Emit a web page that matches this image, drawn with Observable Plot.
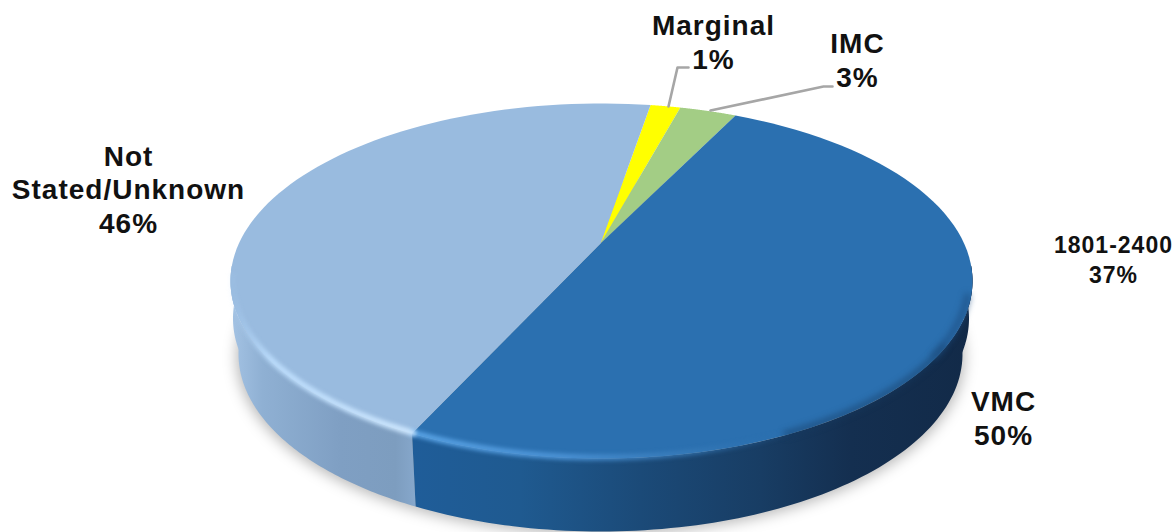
<!DOCTYPE html>
<html><head><meta charset="utf-8">
<script src="https://cdn.jsdelivr.net/npm/d3@7"></script>
<script src="https://cdn.jsdelivr.net/npm/@observablehq/plot@0.6"></script>
<style>html,body{margin:0;padding:0;background:#fff}svg{display:block}</style>
</head><body><div id="chart"></div>
<script>
// Data
const categories = ["Marginal", "IMC", "VMC", "Not\nStated/Unknown"];
const statedPercent = [1, 3, 50, 46];
// slice sizes as drawn in the picture (percent of the turn)
const drawnShare = [1.3, 2.47, 52.65, 43.58];
const colors = ["#ffff00", "#a3cd85", "#2b70b0", "#99bbdf"];
const strayLabel = "1801-2400\n37%";

// Layout (chart units equal pixels)
const W = 1176, H = 532;
const topE = {cx: 601, cy: 280.5, rx: 371, ry: 177.5};
const midE = {cx: 600.5, cy: 318, rx: 368, ry: 177.5};
const botE = {cx: 600, cy: 353.5, rx: 362, ry: 177.5};
const apex = {x: 600, y: 243};
const rad = Math.PI / 180;
const pt = (e, t, k = 1) => ({x: e.cx + k * e.rx * Math.sin(t), y: e.cy - k * e.ry * Math.cos(t)});
const arcPts = (e, a, b, k = 1) => d3.range(0, 1.0001, 1 / 90).map(f => pt(e, a + (b - a) * f, k));

const arcs = d3.pie().sort(null).value(d => d).startAngle(7.6 * rad).endAngle(367.6 * rad)(drawnShare);
const blue = arcs[2], light = arcs[3];

const wedge = a => [apex, ...arcPts(topE, a.startAngle, a.endAngle)];
const side = (a, b, e = botE) => [...arcPts(topE, a, b), ...arcPts(e, b, a)];
const line = (pts, o) => Plot.line(pts, {x: "x", y: "y", curve: "linear", ...o});

const labelPos = [[713, 41], [857, 59], [1003, 417], [128, 188]];
const labels = categories.map((c, i) => ({text: `${c}\n${statedPercent[i]}%`, x: labelPos[i][0], y: labelPos[i][1]}));
const leaders = [
  [{x: 668, y: 106}, {x: 677, y: 67}, {x: 688, y: 67}],
  [{x: 710, y: 110}, {x: 823, y: 86}, {x: 832, y: 86}]
];

const plot = Plot.plot({
  width: W, height: H, margin: 0,
  x: {domain: [0, W], axis: null},
  y: {domain: [H, 0], axis: null},
  style: {background: "#fff", letterSpacing: "1px"},
  marks: [
    // drop shadow
    line(arcPts({...botE, cy: botE.cy + 3, rx: botE.rx + 2}, 0, 2 * Math.PI), {fill: "#000", fillOpacity: 0.28, stroke: "none", imageFilter: "blur(7px)"}),
    // side walls
    line(side(light.startAngle, 275 * rad), {fill: "url(#sideLight)", stroke: "none"}),
    line(side(235 * rad, 275 * rad, midE), {fill: "url(#sideLight)", stroke: "none"}),
    line(side(85 * rad, blue.endAngle), {fill: "url(#sideBlue)", stroke: "none"}),
    line(side(85 * rad, 125 * rad, midE), {fill: "url(#sideBlue)", stroke: "none"}),
    // top face
    ...arcs.map((a, i) => line(wedge(a), {fill: colors[i], stroke: "none"})),
    // bevel: soft rim around the front of the top face
    line(arcPts(topE, 112 * rad, 150 * rad, 0.995), {stroke: "#163a60", strokeWidth: 6, strokeOpacity: .55, imageFilter: "blur(3px)"}),
    line(arcPts(topE, 95 * rad, 115 * rad, 0.99), {stroke: "#1d4d80", strokeWidth: 6, strokeOpacity: .7, imageFilter: "blur(3px)"}),
    line(arcPts(topE, 150 * rad, blue.endAngle, 0.995), {stroke: "url(#rimBlue)", strokeWidth: 6, imageFilter: "blur(2px)"}),
    line(arcPts(topE, blue.endAngle, 272 * rad, 0.995), {stroke: "url(#rimLight)", strokeWidth: 6, imageFilter: "blur(2px)"}),
    // leaders
    ...leaders.map(l => line(l, {stroke: "#a6a6a6", strokeWidth: 2.6})),
    // labels
    Plot.text(labels, {x: "x", y: "y", text: "text", fontFamily: "Liberation Sans", fontWeight: "bold", fontSize: 28, lineHeight: 1.2, fill: "#111", textAnchor: "middle", stroke: "none"}),
    Plot.text([strayLabel], {x: () => 1113, y: () => 258, text: d => d, fontFamily: "Liberation Sans", fontWeight: "bold", fontSize: 23, lineHeight: 1.3, fill: "#111", textAnchor: "middle"})
  ]
});

const defs = d3.select(plot).append("defs");
function grad(id, stops) {
  const g = defs.append("linearGradient").attr("id", id).attr("gradientUnits", "userSpaceOnUse")
    .attr("x1", 225).attr("x2", 975).attr("y1", 0).attr("y2", 0);
  stops.forEach(([x, c, o = 1]) => g.append("stop").attr("offset", (x - 225) / 750).attr("stop-color", c).attr("stop-opacity", o));
}
grad("sideLight", [[230, "#a4c3e4"], [262, "#8fb0d3"], [340, "#7f9fc3"], [395, "#7d9dbf"], [414, "#86a7cb"]]);
grad("sideBlue", [[412, "#1f5d99"], [520, "#1f5a90"], [640, "#1b4a78"], [760, "#183d64"], [850, "#142f50"], [972, "#122a48"]]);
grad("rimLight", [[232, "#b0d4f8", .1], [270, "#bfe0ff", .9], [412, "#cfe8ff", 1]]);
grad("rimBlue", [[412, "#5aa4e6", 1], [560, "#4c93d6", 1], [690, "#3a7dbb", .7], [780, "#2b70b0", .1]]);

document.getElementById("chart").append(plot);
</script></body></html>
